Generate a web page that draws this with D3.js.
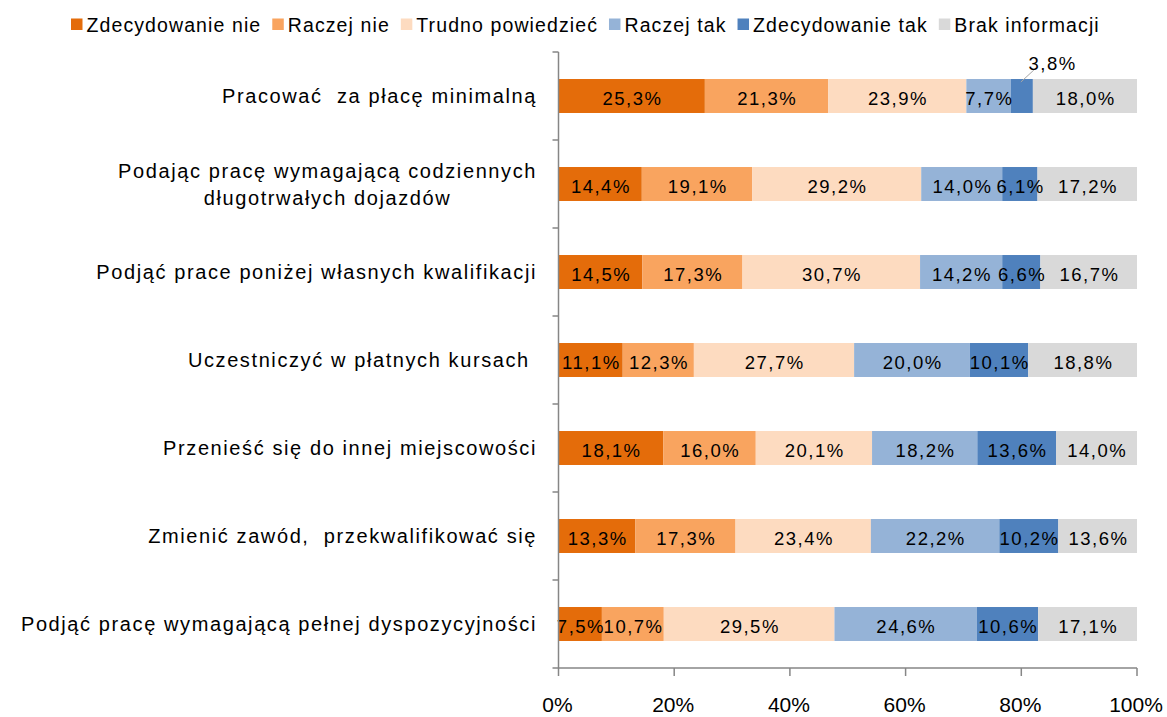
<!DOCTYPE html>
<html>
<head>
<meta charset="utf-8">
<script src="https://cdn.jsdelivr.net/npm/d3@7"></script>
<style>
  body { margin: 0; background: #fff; }
  svg { font-family: "Liberation Sans", Arial, sans-serif; }
  text { white-space: pre; }
</style>
</head>
<body>
<div id="chart"></div>
<script>
// ── Data ───────────────────────────────────────────────────────────────────
const categories = [
  ["Pracować  za płacę minimalną"],
  ["Podając pracę wymagającą codziennych", "długotrwałych dojazdów"],
  ["Podjąć prace poniżej własnych kwalifikacji"],
  ["Uczestniczyć w płatnych kursach "],
  ["Przenieść się do innej miejscowości"],
  ["Zmienić zawód,  przekwalifikować się"],
  ["Podjąć pracę wymagającą pełnej dyspozycyjności"]
];
const seriesNames = ["Zdecydowanie nie", "Raczej nie", "Trudno powiedzieć", "Raczej tak", "Zdecydowanie tak", "Brak informacji"];
const seriesColors = ["#E46C0A", "#F9A45F", "#FDDBC0", "#95B3D7", "#4F81BD", "#D9D9D9"];

const zdecydowanieNie = [25.3, 14.4, 14.5, 11.1, 18.1, 13.3, 7.5];
const raczejNie       = [21.3, 19.1, 17.3, 12.3, 16.0, 17.3, 10.7];
const trudnoPowiedz   = [23.9, 29.2, 30.7, 27.7, 20.1, 23.4, 29.5];
const raczejTak       = [7.7, 14.0, 14.2, 20.0, 18.2, 22.2, 24.6];
const zdecydowanieTak = [3.8, 6.1, 6.6, 10.1, 13.6, 10.2, 10.6];
const brakInformacji  = [18.0, 17.2, 16.7, 18.8, 14.0, 13.6, 17.1];
const xTicks = [0, 20, 40, 60, 80, 100];

const seriesValues = [zdecydowanieNie, raczejNie, trudnoPowiedz, raczejTak, zdecydowanieTak, brakInformacji];

// ── Layout ─────────────────────────────────────────────────────────────────
const W = 1167, H = 717;
const X0 = 558.5, X1 = 1137, Y0 = 52, Y1 = 668;

const svg = d3.select("#chart").append("svg").attr("width", W).attr("height", H);

const x = d3.scaleLinear().domain([0, 100]).range([X0, X1]);
const y = d3.scaleBand().domain(d3.range(categories.length)).range([Y0, Y1])
  .paddingInner(0.614).paddingOuter(0.307);

const fmt = v => v.toFixed(1).replace(".", ",") + "%";

// ── Bars ───────────────────────────────────────────────────────────────────
const rows = categories.map((c, i) => {
  let acc = 0;
  return seriesValues.map((vals, s) => {
    const d = { cat: i, s, v: vals[i], x0: acc, x1: acc + vals[i] };
    acc += vals[i];
    return d;
  });
});
const segs = rows.flat();

svg.append("g").selectAll("rect").data(segs).join("rect")
  .attr("x", d => x(d.x0))
  .attr("y", d => y(d.cat))
  .attr("width", d => x(d.x1) - x(d.x0))
  .attr("height", y.bandwidth())
  .attr("fill", d => seriesColors[d.s]);

// Labels (small 3,8% segment gets a callout above)
const LS = 1.5; // Excel-like loose letter spacing
function valueLabel(cx, yy, txt) {
  const t = svg.append("text").attr("y", yy)
    .attr("font-size", 18.5).attr("letter-spacing", LS).attr("fill", "#000").text(txt);
  const w = t.node().getComputedTextLength();
  t.attr("x", cx - w / 2 + LS / 2);
}
segs.forEach(d => {
  const cx = (x(d.x0) + x(d.x1)) / 2;
  const cy = y(d.cat) + y.bandwidth() / 2;
  if (d.v < 5) {
    svg.append("line")
      .attr("x1", cx - 1).attr("y1", y(d.cat) + 3)
      .attr("x2", cx + 12).attr("y2", y(d.cat) - 9)
      .attr("stroke", "#a6a6a6").attr("stroke-width", 1);
    valueLabel(cx + 30, y(d.cat) - 9, fmt(d.v));
  } else {
    valueLabel(cx, cy + 8.5, fmt(d.v));
  }
});

// ── Axes ───────────────────────────────────────────────────────────────────
const axisColor = "#868686";
svg.append("line").attr("x1", X0).attr("x2", X0).attr("y1", Y0).attr("y2", Y1)
  .attr("stroke", axisColor).attr("stroke-width", 1.5);
svg.append("line").attr("x1", X0).attr("x2", X1).attr("y1", Y1).attr("y2", Y1)
  .attr("stroke", axisColor).attr("stroke-width", 1.5);

// category boundary ticks
d3.range(categories.length + 1).forEach(i => {
  const yy = Y0 + i * (Y1 - Y0) / categories.length;
  svg.append("line").attr("x1", X0 - 6).attr("x2", X0).attr("y1", yy).attr("y2", yy)
    .attr("stroke", axisColor).attr("stroke-width", 1.5);
});

xTicks.forEach(t => {
  svg.append("line").attr("x1", x(t)).attr("x2", x(t)).attr("y1", Y1).attr("y2", Y1 + 8)
    .attr("stroke", axisColor).attr("stroke-width", 1.5);
  svg.append("text").attr("x", x(t) - 1).attr("y", 712)
    .attr("text-anchor", "middle").attr("font-size", 21).attr("fill", "#000")
    .text(t + "%");
});

// category labels
categories.forEach((lines, i) => {
  const cy = y(i) + y.bandwidth() / 2;
  const lh = 27;
  const texts = lines.map((ln, k) =>
    svg.append("text").attr("y", cy + 7 + (k - (lines.length - 1) / 2) * lh)
      .attr("font-size", 20).attr("letter-spacing", 1.6).attr("fill", "#000").text(ln));
  const widths = texts.map(t => t.node().getComputedTextLength());
  const maxW = d3.max(widths);
  const center = 537 - maxW / 2;
  texts.forEach((t, k) => t.attr("x", center - widths[k] / 2));
});

// ── Legend ─────────────────────────────────────────────────────────────────
const legend = svg.append("g");
let lx = 71;
seriesNames.forEach((name, s) => {
  legend.append("rect").attr("x", lx).attr("y", 18.5).attr("width", 11.5).attr("height", 11.5)
    .attr("fill", seriesColors[s]);
  const t = legend.append("text").attr("x", lx + 15.5).attr("y", 31.5)
    .attr("font-size", 19.5).attr("letter-spacing", 1.1).attr("fill", "#000").text(name);
  lx += 15.5 + t.node().getComputedTextLength() + 11;
});
</script>
</body>
</html>
